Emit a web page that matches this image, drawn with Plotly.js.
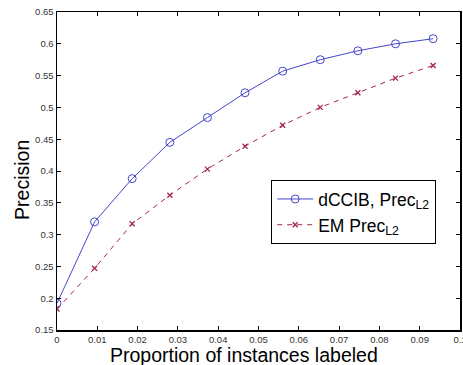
<!DOCTYPE html>
<html>
<head>
<meta charset="utf-8">
<script src="https://cdn.plot.ly/plotly-3.0.1.min.js"></script>
<style>
  html, body { margin: 0; padding: 0; background: #fff; }
  #chart { width: 463px; height: 365px; }
</style>
</head>
<body>
<div id="chart"></div>
<script>
// Proportion of instances labeled (x positions of the samples)
const proportion = [0, 0.00933, 0.01866, 0.028, 0.03733, 0.04666, 0.056, 0.06533, 0.07466, 0.084, 0.09333];

// Precision of the two methods
const dccibPrec = [0.192, 0.320, 0.388, 0.445, 0.484, 0.523, 0.557, 0.575, 0.589, 0.600, 0.608];
const emPrec    = [0.183, 0.247, 0.317, 0.362, 0.403, 0.439, 0.472, 0.500, 0.523, 0.546, 0.566];

const xTicks = [0, 0.01, 0.02, 0.03, 0.04, 0.05, 0.06, 0.07, 0.08, 0.09, 0.1];
const xTickText = ['0', '0.01', '0.02', '0.03', '0.04', '0.05', '0.06', '0.07', '0.08', '0.09', '0.1'];
const yTicks = [0.15, 0.2, 0.25, 0.3, 0.35, 0.4, 0.45, 0.5, 0.55, 0.6, 0.65];
const yTickText = ['0.15', '0.2', '0.25', '0.3', '0.35', '0.4', '0.45', '0.5', '0.55', '0.6', '0.65'];

const xLabel = 'Proportion of instances labeled';
const yLabel = 'Precision';

const blue = '#4646cc';
const red = '#a32352';
const font = 'Liberation Sans, Arial, Helvetica, sans-serif';

const traces = [
  {
    x: proportion, y: dccibPrec,
    name: 'dCCIB, Prec<sub>L2</sub>',
    mode: 'lines+markers',
    line: { color: blue, width: 1 },
    marker: { symbol: 'circle-open', size: 8, color: blue, line: { width: 1, color: blue } }
  },
  {
    x: proportion, y: emPrec,
    name: 'EM Prec<sub>L2</sub>',
    mode: 'lines+markers',
    line: { color: red, width: 1, dash: '5px,5px' },
    marker: { symbol: 'x-thin-open', size: 5, color: red, line: { width: 1.3, color: red } }
  }
];

const axisCommon = {
  showline: true, mirror: 'ticks', linecolor: '#000', linewidth: 1.5,
  ticks: 'inside', ticklen: 4, tickwidth: 1, tickcolor: '#000',
  showgrid: false, zeroline: false, ticklabeloverflow: 'allow',
  tickfont: { family: font, size: 9.5, color: '#333' }
};

const layout = {
  width: 463, height: 365,
  margin: { l: 57, r: 3, t: 12, b: 35 },
  paper_bgcolor: '#fff', plot_bgcolor: '#fff',
  showlegend: true,
  legend: {
    x: 0.531, y: 0.472, xanchor: 'left', yanchor: 'top',
    bordercolor: '#000', borderwidth: 1.2, bgcolor: '#fff',
    font: { family: font, size: 17.5, color: '#000' },
    itemwidth: 36, tracegroupgap: 0
  },
  xaxis: Object.assign({}, axisCommon, {
    range: [0, 0.1], tickvals: xTicks, ticktext: xTickText
  }),
  yaxis: Object.assign({}, axisCommon, {
    range: [0.15, 0.65], tickvals: yTicks, ticktext: yTickText
  }),
  annotations: [
    {
      text: xLabel, xref: 'paper', yref: 'paper',
      x: (244 - 57) / 403, y: (330 - 355) / 318, xanchor: 'center', yanchor: 'middle',
      showarrow: false, font: { family: font, size: 19.5, color: '#000' }
    },
    {
      text: yLabel, xref: 'paper', yref: 'paper', textangle: -90,
      x: -0.087, y: (330 - 180) / 318, xanchor: 'center', yanchor: 'middle',
      showarrow: false, font: { family: font, size: 19.5, color: '#000' }
    }
  ]
};

Plotly.newPlot('chart', traces, layout, { displayModeBar: false, staticPlot: true });
</script>
</body>
</html>
